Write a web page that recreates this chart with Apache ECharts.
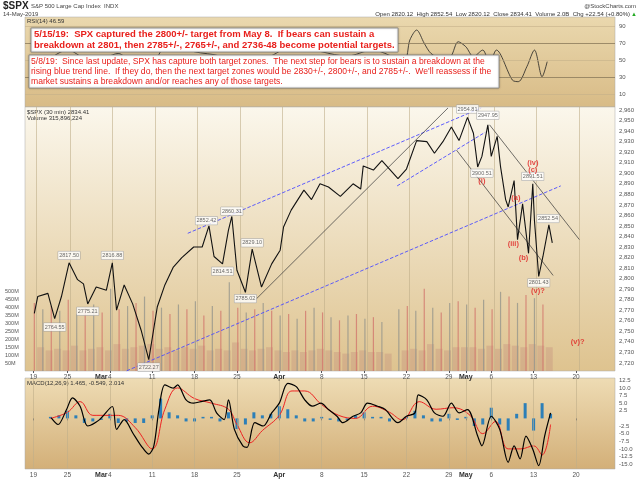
<!DOCTYPE html>
<html><head><meta charset="utf-8">
<script src="https://cdn.jsdelivr.net/npm/echarts@6/dist/echarts.min.js"></script>
<style>html,body{margin:0;background:#fff}#c{width:640px;height:479px}</style>
</head><body><div id="c"></div>
<script>
// day index = weekdays since Feb 18 2019
var tickDays = [1, 5, 9, 10, 15, 20, 25, 30, 35, 40, 45, 50, 52, 55, 60, 65];
var tickText = ['19', '25', 'Mar', '4', '11', '18', '25', 'Apr', '8', '15', '22', '29', 'May', '6', '13', '20'];
var gridDays = [1, 5, 10, 15, 20, 25, 30, 35, 40, 45, 50, 52, 55, 60, 65];

var priceDays = [1.1,1.5,2.7,3.5,4.3,5.2,6.2,6.9,7.4,8.4,9.6,10.3,10.8,11.7,12.7,13.7,14.6,15.6,16.5,17.5,18.5,19.9,20.9,21.7,22.3,23.3,24.0,24.4,25.0,26.0,26.8,27.9,29.1,30.1,30.5,31.4,32.9,33.8,34.8,35.8,37.2,38.7,39.6,39.9,41.1,42.1,44.0,45.0,46.2,47.4,48.3,49.3,50.3,51.2,52.2,52.9,53.4,53.9,54.6,55.0,55.7,56.1,56.7,57.0,57.7,58.1,58.7,59.4,59.9,60.1,60.6,61.1,61.8,62.2];
var priceVals = [2767,2783,2786,2762,2783,2815,2799,2795,2776,2792,2789,2815,2770,2794,2776,2751,2723,2773,2794,2811,2820,2830,2830,2850,2821,2814,2846,2859,2808,2787,2828,2792,2814,2827,2849,2865,2884,2875,2890,2887,2878,2890,2885,2907,2903,2912,2895,2904,2931,2930,2919,2930,2944,2931,2953,2938,2906,2916,2946,2916,2935,2906,2875,2868,2893,2837,2871,2824,2890,2855,2802,2821,2851,2834];

var volPeak = [430,390,410,380,450,360,400,420,370,520,390,410,430,470,380,400,360,420,390,440,350,410,380,560,400,370,390,430,380,350,360,330,380,400,370,340,320,350,360,330,340,310,null,390,410,380,520,400,370,430,440,420,400,450,390,500,470,430,480,460,420];
var volMid = [150,130,140,130,160,130,140,150,130,170,140,150,160,170,140,150,130,150,140,160,130,140,130,180,140,130,140,150,130,120,130,120,130,140,130,120,110,120,130,120,120,110,null,130,140,130,170,140,130,150,150,150,140,160,140,170,160,150,170,160,150];

var macdDays = [3.1,3.9,4.9,5.6,6.5,7.4,8.8,10.3,10.8,11.7,12.7,13.7,14.6,15.2,15.8,16.5,17.5,18,19,19.9,20.9,21.8,22.6,23.5,24,24.7,25.7,26.2,27.1,28.1,29.1,30,31,32,33,33.9,34.9,35.8,36.8,37.5,38.7,39.6,40.4,41.6,42.5,44,45,46,46.4,47.4,48.3,49.3,50.3,51.2,52.2,53.4,53.9,55,56,57,57.7,58.4,59.1,59.9,60.6,61.3,62];
var macdVals = [0.2,-2,2.9,6.7,4,-2.5,-0.4,3.9,-3.6,-0.4,-4.7,-9,-11.7,-9,2.9,11,9.9,11,6.1,5,5.6,6.1,1.8,-0.4,6.1,-3.6,-9,-9.5,-1.4,-2.5,1.8,5,11.5,10.4,6.1,4,5,2.9,0.7,-1.4,0.7,1.8,5,4,2.9,-1.4,0.7,1.8,7.7,6.1,1.8,0.7,5,1.8,2.9,-5.8,-9,0.7,-3.6,-14.4,-9,-13.3,-5.8,-10.1,-15.5,-5.8,1.8];
var sigDays = [3,5,6.5,8,10,11,13,15,16.5,18,20,22,24,25,26.5,28,30,31.5,33,35,37,39,41,43,44.5,46.5,48.5,50.5,52.5,54,55.5,57,58.5,60,61,62];
var sigVals = [0,2,5.5,1,1,1,-3,-10,3,10,6.5,5,3,-2,-8,-4,1,9,9,4.5,1,0,4,2,-0.5,5.5,3,3.5,1,-5,-1,-10,-10,-9,-12,-2];
var histDays = [3,4,5,6,7,8,9,10,11,12,13,14,15,16,17,18,19,20,21,22,23,24,25,26,27,28,29,30,31,32,33,34,35,36,37,38,39,40,41,42,43,45,46,47,48,49,50,51,52,53,54,55,56,57,58,59,60,61,62];
var histVals = [0.5,1,2.5,1,-1.5,-1,-0.5,1.5,-1.5,-1,-1.5,-1.5,1,6.5,2,1,-1,-1,0.5,0.5,-1,2,-3.5,-2,2,1,1.5,4,3,1,-1,-1,0.5,-0.5,-1,-0.5,1,2,0.5,0.5,-1,0.5,2.5,1,-1,-1,1.5,-0.5,0.5,-2.5,-2,3.5,-2,-4,1.5,5,-4,5,1.5];

var rsiDays = [2,5,8,11,14,17,20,23,26,29,32,35,38,41,44.7,45.4,46.2,47.1,47.9,49.1,50.2,51.1,52,52.9,54,54.8,55.6,57.5,58.2,59.2,60.1,61,61.6];
var rsiVals = [45,62,48,58,30,70,60,55,40,55,68,60,55,62,50,73.7,85.3,69.8,58,52.4,54.3,71.7,65.9,54.3,62,46.6,62,27,25.2,42.6,62,31,48.5];

var priceTags = [[5.2,2822,'2817.50'],[3.5,2754,'2764.55'],[7.4,2769,'2775.21'],[10.3,2822,'2816.88'],[14.6,2716,'2722.27'],[21.4,2855,'2852.42'],[24.4,2864,'2860.31'],[23.3,2807,'2814.51'],[26.8,2834,'2829.10'],[26.0,2781,'2785.02'],[52.2,2961,'2954.81'],[54.6,2955,'2947.95'],[53.9,2900,'2900.51'],[59.9,2897,'2891.51'],[61.7,2857,'2852.54'],[60.6,2796,'2801.43']];
var waveTags = [[54.6,2964,'(ii)'],[53.9,2893,'(i)'],[59.9,2910,'(iv)'],[59.9,2903,'(c)'],[57.9,2877,'(a)'],[57.6,2833,'(iii)'],[58.8,2820,'(b)'],[60.5,2788,'(v)?'],[65.2,2740,'(v)?']];

var blueLines = [[[19.2,2843],[53.8,2962]],[[12.0,2712.5],[63.2,2888]],[[43.9,2888],[54.3,2939]]];
var blackLines = [[[27.2,2780],[49.9,2962]],[[50.9,2922],[62.3,2803]],[[54.8,2946],[65.4,2837]]];

function grad(a, b) {
    return {type: 'linear', x: 0, y: 0, x2: 0, y2: 1, colorStops: [{offset: 0, color: a}, {offset: 1, color: b}]};
}
function xAx(gi, showLabel) {
    return {
        type: 'value', gridIndex: gi, min: 0, max: 69.6,
        axisLine: {show: false}, splitLine: {show: false},
        axisTick: {show: showLabel, customValues: gridDays, length: 2},
        axisLabel: {
            show: showLabel, customValues: tickDays, fontSize: 6.5, color: '#555', margin: 3,
            formatter: function (v) {
                var t = tickText[tickDays.indexOf(v)] || '';
                return /[A-Z]/.test(t) ? '{b|' + t + '}' : t;
            },
            rich: {b: {fontWeight: 'bold', fontSize: 7, color: '#333'}}
        }
    };
}
function vlines() {
    return {
        silent: true, symbol: 'none', label: {show: false},
        lineStyle: {color: '#bfae8a', type: 'solid', width: 0.6},
        data: gridDays.map(function (d) { return {xAxis: d}; })
    };
}
function zip(a, b) { return a.map(function (v, i) { return [v, b[i]]; }); }

var chart = echarts.init(document.getElementById('c'));
chart.setOption({
    animation: false,
    backgroundColor: '#fff',
    textStyle: {fontFamily: 'Arial'},
    grid: [
        {left: 25, right: 25, top: 17, height: 90, show: true, backgroundColor: grad('#ead8ae', '#d8bb86'), borderColor: '#aaa', borderWidth: 0.5},
        {left: 25, right: 25, top: 107, height: 264, show: true, backgroundColor: grad('#fbf7ec', '#dec38f'), borderColor: '#aaa', borderWidth: 0.5},
        {left: 25, right: 25, top: 378, height: 92, show: true, backgroundColor: grad('#eedcb4', '#d3af78'), borderColor: '#aaa', borderWidth: 0.5}
    ],
    xAxis: [xAx(0, false), xAx(1, true), xAx(2, true)],
    yAxis: [
        {gridIndex: 0, min: -4.3, max: 100.5, position: 'right', axisLine: {show: false}, axisTick: {show: false},
            axisLabel: {customValues: [10, 30, 50, 70, 90], fontSize: 6, color: '#555', margin: 4},
            splitLine: {show: false}},
        {gridIndex: 1, min: 2712.3, max: 2962.9, position: 'right', axisLine: {show: false}, axisTick: {show: false},
            axisLabel: {customValues: [2720,2730,2740,2750,2760,2770,2780,2790,2800,2810,2820,2830,2840,2850,2860,2870,2880,2890,2900,2910,2920,2930,2940,2950,2960], fontSize: 6, color: '#555', margin: 4},
            splitLine: {show: false}},
        {gridIndex: 1, min: 0, max: 1667, position: 'left', axisLine: {show: false}, axisTick: {show: false},
            axisLabel: {inside: true, customValues: [50,100,150,200,250,300,350,400,450,500], fontSize: 5.5, color: '#555', margin: -20,
                formatter: function (v) { return v + 'M'; }},
            splitLine: {show: false}},
        {gridIndex: 2, min: -16.6, max: 13.25, position: 'right', axisLine: {show: false}, axisTick: {show: false},
            axisLabel: {customValues: [-15,-12.5,-10,-7.5,-5,-2.5,0,2.5,5,7.5,10,12.5], fontSize: 6, color: '#555', margin: 4,
                formatter: function (v) { return v === 0 ? '' : v.toFixed(1); }},
            splitLine: {show: false}}
    ],
    series: [
        {type: 'line', xAxisIndex: 0, yAxisIndex: 0, data: zip(rsiDays, rsiVals), symbol: 'none', smooth: 0.3,
            lineStyle: {color: '#222', width: 0.8}, z: 2,
            markLine: {silent: true, symbol: 'none', label: {show: false},
                data: [{yAxis: 70, lineStyle: {color: '#8a7a5a', width: 0.8, type: 'solid'}}, {yAxis: 30, lineStyle: {color: '#8a7a5a', width: 0.8, type: 'solid'}},
                    {yAxis: 50, lineStyle: {color: '#c4b08a', width: 0.6, type: 'solid'}}, {yAxis: 90, lineStyle: {color: '#c4b08a', width: 0.6, type: 'solid'}}, {yAxis: 10, lineStyle: {color: '#c4b08a', width: 0.6, type: 'solid'}}]}},
        {type: 'bar', xAxisIndex: 1, yAxisIndex: 2, barWidth: 7, barGap: '-100%',
            data: volMid.map(function (v, i) { return [i + 1.5, v]; }),
            itemStyle: {color: 'rgba(190,130,120,0.3)'}, markLine: vlines()},
        {type: 'bar', xAxisIndex: 1, yAxisIndex: 2, barWidth: 1.2, barGap: '-100%',
            data: volPeak.map(function (v, i) { return [i + 1.1, v]; }),
            itemStyle: {color: function (p) { return p.dataIndex % 2 ? 'rgba(150,150,140,0.8)' : 'rgba(210,120,110,0.8)'; }}},
        {type: 'line', xAxisIndex: 1, yAxisIndex: 1, data: zip(priceDays, priceVals), symbol: 'none',
            lineStyle: {color: '#111', width: 1.1}, z: 5,
            markLine: {silent: true, symbol: 'none', label: {show: false},
                data: blueLines.map(function (l) { return [{coord: l[0], lineStyle: {color: '#4d4dff', type: 'dashed', width: 0.9}}, {coord: l[1]}]; })
                    .concat(blackLines.map(function (l) { return [{coord: l[0], lineStyle: {color: '#333', type: 'solid', width: 0.7}}, {coord: l[1]}]; }))}},
        {type: 'scatter', xAxisIndex: 1, yAxisIndex: 1, symbolSize: 0, z: 8,
            data: priceTags.map(function (t) { return {value: [t[0], t[1]], name: t[2]}; }),
            label: {show: true, formatter: '{b}', fontSize: 5.5, color: '#444', backgroundColor: '#fff', borderColor: '#999', borderWidth: 0.5, padding: [1, 1]}},
        {type: 'scatter', xAxisIndex: 1, yAxisIndex: 1, symbolSize: 0, z: 8,
            data: waveTags.map(function (t) { return {value: [t[0], t[1]], name: t[2]}; }),
            label: {show: true, formatter: '{b}', fontSize: 7.5, fontWeight: 'bold', color: '#e02020'}},
        {type: 'bar', xAxisIndex: 2, yAxisIndex: 3, data: zip(histDays, histVals), barWidth: 3,
            itemStyle: {color: '#2c7fb8'}, markLine: vlines()},
        {type: 'line', xAxisIndex: 2, yAxisIndex: 3, data: zip(sigDays, sigVals), symbol: 'none', smooth: 0.4,
            lineStyle: {color: '#ee2222', width: 1}, z: 4},
        {type: 'line', xAxisIndex: 2, yAxisIndex: 3, data: zip(macdDays, macdVals), symbol: 'none', smooth: 0.3,
            lineStyle: {color: '#000', width: 1.2}, z: 5}
    ],
    graphic: [
        {type: 'text', left: 3, top: 1, style: {text: '$SPX', font: 'bold 10px Arial', fill: '#222'}},
        {type: 'text', left: 31, top: 3, style: {text: 'S&P 500 Large Cap Index  INDX', font: '6px Arial', fill: '#444'}},
        {type: 'text', left: 3, top: 11, style: {text: '14-May-2019', font: '6px Arial', fill: '#444'}},
        {type: 'text', right: 4, top: 3, style: {text: '@StockCharts.com', font: '6px Arial', fill: '#444'}},
        {type: 'text', right: 10, top: 11, style: {text: 'Open 2820.12  High 2852.54  Low 2820.12  Close 2834.41  Volume 2.0B  Chg +22.54 (+0.80%)', font: '6px Arial', fill: '#333'}},
        {type: 'text', right: 3, top: 11, style: {text: '▲', font: '6px Arial', fill: '#2a2'}},
        {type: 'text', left: 27, top: 18, style: {text: 'RSI(14) 46.59', font: '6px Arial', fill: '#333'}},
        {type: 'text', left: 27, top: 109, style: {text: '$SPX (30 min) 2834.41\nVolume 315,896,224', font: '6px Arial', fill: '#333', lineHeight: 6}},
        {type: 'text', left: 27, top: 380, style: {text: 'MACD(12,26,9) 1.465, -0.549, 2.014', font: '6px Arial', fill: '#333'}},
        {type: 'rect', shape: {x: 31, y: 28, width: 367, height: 24}, style: {fill: '#fff', stroke: '#888', lineWidth: 0.8, shadowBlur: 2, shadowColor: 'rgba(0,0,0,0.3)'}, z: 100},
        {type: 'text', x: 34, y: 29, z: 101, style: {text: '5/15/19:  SPX captured the 2800+/- target from May 8.  If bears can sustain a\nbreakdown at 2801, then 2785+/-, 2765+/-, and 2736-48 become potential targets.', font: 'bold 9.5px Arial', fill: '#e8201c', lineHeight: 11}},
        {type: 'rect', shape: {x: 29, y: 55, width: 470, height: 33}, style: {fill: '#fff', stroke: '#888', lineWidth: 0.8, shadowBlur: 2, shadowColor: 'rgba(0,0,0,0.3)'}, z: 100},
        {type: 'text', x: 31, y: 57, z: 101, style: {text: "5/8/19:  Since last update, SPX has capture both target zones.  The next step for bears is to sustain a breakdown at the\nrising blue trend line.  If they do, then the next target zones would be 2830+/-, 2800+/-, and 2785+/-.  We'll reassess if the\nmarket sustains a breakdown and/or reaches any of those targets.", font: '8.6px Arial', fill: '#e8201c', lineHeight: 10}}
    ]
});
</script>
</body></html>
